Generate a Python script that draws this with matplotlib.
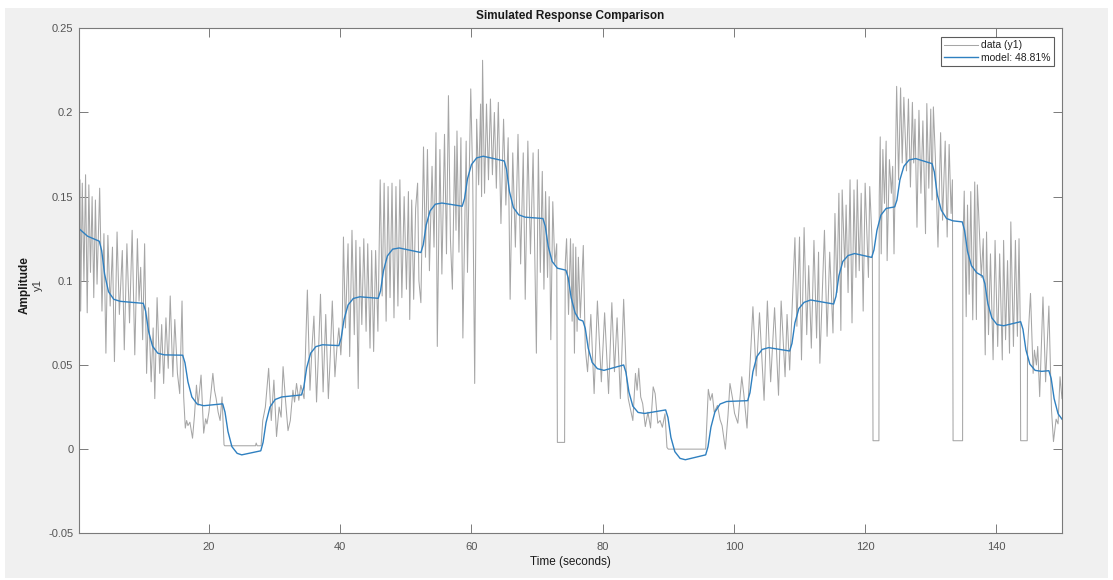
import matplotlib
matplotlib.use("Agg")
import matplotlib.pyplot as plt
from matplotlib.patches import Rectangle

plt.rcParams['font.family'] = ['Liberation Sans', 'DejaVu Sans']

# Measured output y1 (time in seconds, amplitude)
data_t = [
    0.2, 0.35, 0.45, 0.7, 0.95, 1.2, 1.45, 1.7, 1.95, 2.2, 2.45, 2.7, 2.95, 3.35,
    3.7, 4.0, 4.3, 4.6, 4.95, 5.3, 5.6, 6.0, 6.35, 6.8, 7.1, 7.5, 7.9, 8.3, 8.7, 9.1, 9.35, 9.6, 9.9, 10.2,
    10.5, 10.8, 11.2, 11.5, 11.75, 12.1, 12.5, 12.8, 13.1, 13.45, 13.8, 14.1, 14.5, 14.8, 15.2, 15.55, 15.9,
    16.15, 16.4, 16.6, 16.8, 17.1, 17.5, 17.8, 18.1, 18.35, 18.5, 18.8, 19.2, 19.5, 19.7, 20.0, 20.3, 20.6,
    20.85, 21.1, 21.4, 21.7, 22.0, 22.3, 22.4,
    27.1, 27.2, 27.35, 27.95,
    28.2, 28.6, 29.1, 29.5, 29.9, 30.3, 30.7, 31.0, 31.3, 31.65, 32.05, 32.4, 32.8, 33.05, 33.35, 33.7, 34.0,
    34.5, 35.0, 35.4, 35.7, 36.0, 36.4, 36.7, 37.0, 37.4, 37.8, 38.2, 38.5, 38.8, 39.2, 39.5, 39.8, 40.1,
    40.3, 40.5, 40.8, 41.2, 41.45, 41.8, 42.15, 42.4, 42.75, 43.0, 43.3, 43.6, 43.95, 44.2, 44.55, 44.8,
    45.1, 45.4, 45.75,
    46.1, 46.4, 46.7, 47.0, 47.3, 47.6, 47.9, 48.2, 48.5, 48.8, 49.1, 49.4, 49.75, 50.1, 50.4, 50.6, 50.9,
    51.2, 51.5, 51.8, 52.0, 52.3,
    52.7, 53.0, 53.3, 53.6, 54.0, 54.3, 54.6, 54.8, 55.2, 55.5, 55.9, 56.2, 56.5, 56.8, 57.1, 57.45, 57.65,
    57.8, 58.1, 58.4, 58.7,
    59.2, 59.4, 59.9, 60.2, 60.5, 60.8, 61.1, 61.4, 61.55, 61.7, 62.0, 62.3, 62.6, 62.9, 63.2, 63.5, 63.8,
    64.1, 64.5, 64.9,
    65.25, 65.6, 65.9, 66.3, 66.7, 67.1, 67.5, 67.9, 68.2, 68.6, 69.0, 69.4, 69.9, 70.2, 70.5, 70.8,
    71.05, 71.3, 71.6, 71.85, 72.1, 72.4, 72.7, 73.0, 73.1, 74.2, 74.3,
    74.5, 74.8, 75.1, 75.35, 75.5, 75.7, 75.9, 76.1, 76.3, 76.6, 77.05, 77.35,
    77.7, 78.2, 78.7, 79.2, 79.8, 80.3, 80.9, 81.4, 81.8, 82.2, 82.7, 83.2,
    83.6, 83.9, 84.6, 85.0, 85.25, 85.5, 85.8, 86.1, 86.5, 86.9, 87.3, 87.7, 88.0, 88.4, 88.75, 89.1, 89.5,
    89.8, 90.0,
    95.7,
    96.1, 96.4, 96.7, 97.0, 97.5, 97.9, 98.2, 98.7, 99.1, 99.4, 99.8, 100.1, 100.6, 101.2, 101.5, 102.0, 102.2,
    102.9, 103.4, 103.9, 104.6, 105.1, 105.6, 106.2, 106.8, 107.2, 107.8, 108.1, 108.5,
    109.3, 109.6, 110.0, 110.3, 110.7, 111.1, 111.4, 111.8, 112.2, 112.6, 112.9, 113.1, 113.8, 114.2, 114.6,
    115.1,
    115.4, 115.7, 116.0, 116.3, 116.5, 116.9, 117.1, 117.4, 117.7, 118.0, 118.3, 118.6, 118.8, 119.1, 119.4,
    119.7, 120.0, 120.5, 120.7, 121.1, 121.2, 122.1, 122.15,
    122.3, 122.45, 122.7, 122.95, 123.2, 123.35, 123.7, 124.0, 124.2, 124.4, 124.8,
    125.1, 125.4, 125.65, 125.9, 126.3, 126.6, 126.9, 127.2, 127.4, 127.6, 127.9, 128.2, 128.5, 128.8, 129.2,
    129.4, 129.7, 130.0, 130.2, 130.4,
    130.7, 131.1, 131.5, 131.8, 132.2, 132.5, 132.8, 133.1, 133.3, 133.4, 134.85, 134.9,
    135.1, 135.4, 135.6, 135.85, 136.1, 136.4, 136.7, 136.95, 137.1, 137.3, 137.7, 138.0,
    138.3, 138.5, 138.8, 139.1, 139.5, 139.8, 140.2, 140.5, 140.9, 141.1, 141.4, 141.7, 142.0, 142.2, 142.6,
    142.9, 143.2, 143.45, 143.65, 143.7, 144.7, 144.75,
    145.2, 145.6, 145.8, 146.1, 146.3, 146.6, 147.1, 147.5, 148.0,
    148.4, 148.7, 149.1, 149.4, 149.7, 150.0,
]
data_y = [
    0.120, 0.160, 0.082, 0.158, 0.100, 0.163, 0.081, 0.157, 0.105, 0.150, 0.090, 0.148, 0.098, 0.155,
    0.082, 0.128, 0.057, 0.127, 0.085, 0.120, 0.052, 0.129, 0.080, 0.118, 0.059, 0.122, 0.075, 0.130, 0.056,
    0.125, 0.088, 0.108, 0.065, 0.122,
    0.045, 0.084, 0.040, 0.072, 0.030, 0.090, 0.045, 0.074, 0.039, 0.078, 0.048, 0.091, 0.043, 0.077, 0.045,
    0.033, 0.088,
    0.031, 0.0125, 0.017, 0.014, 0.016, 0.0065, 0.020, 0.038, 0.026, 0.032, 0.044, 0.0095, 0.018, 0.015,
    0.022, 0.033, 0.045, 0.035, 0.030, 0.022, 0.017, 0.031, 0.0026, 0.002,
    0.002, 0.0036, 0.002, 0.002,
    0.017, 0.025, 0.048, 0.017, 0.041, 0.0075, 0.025, 0.019, 0.049, 0.030, 0.011, 0.017, 0.035, 0.028,
    0.039, 0.029, 0.038,
    0.030, 0.0945, 0.035, 0.060, 0.079, 0.028, 0.058, 0.092, 0.034, 0.080, 0.030, 0.056, 0.088, 0.043,
    0.060, 0.072, 0.056,
    0.070, 0.126, 0.072, 0.122, 0.055, 0.130, 0.068, 0.124, 0.036, 0.120, 0.074, 0.125, 0.070, 0.122,
    0.060, 0.118, 0.058, 0.118, 0.070,
    0.160, 0.091, 0.158, 0.076, 0.156, 0.090, 0.158, 0.078, 0.156, 0.085, 0.160, 0.090, 0.150, 0.095,
    0.153, 0.077, 0.148, 0.089, 0.143, 0.158, 0.100, 0.087,
    0.1795, 0.114, 0.178, 0.106, 0.168, 0.120, 0.188, 0.061, 0.178, 0.104, 0.187, 0.116, 0.210, 0.125,
    0.095, 0.180, 0.130, 0.189, 0.117, 0.185, 0.066,
    0.183, 0.105, 0.214, 0.160, 0.039, 0.196, 0.157, 0.205, 0.150, 0.231, 0.152, 0.205, 0.160, 0.208,
    0.163, 0.200, 0.155, 0.206, 0.134, 0.196,
    0.145, 0.185, 0.089, 0.176, 0.120, 0.187, 0.110, 0.176, 0.089, 0.183, 0.116, 0.176, 0.057, 0.178,
    0.105, 0.165,
    0.095, 0.153, 0.102, 0.150, 0.065, 0.147, 0.110, 0.122, 0.004, 0.004, 0.110,
    0.125, 0.080, 0.125, 0.076, 0.122, 0.057, 0.120, 0.070, 0.114, 0.078, 0.121, 0.060,
    0.046, 0.080, 0.033, 0.088, 0.040, 0.081, 0.033, 0.087, 0.046, 0.078, 0.030, 0.089,
    0.045, 0.030, 0.017, 0.045, 0.035, 0.048, 0.031, 0.027, 0.0134, 0.022, 0.0126, 0.037, 0.033, 0.0154,
    0.017, 0.013, 0.021, 0.001, 0.0,
    0.0,
    0.0355, 0.029, 0.033, 0.022, 0.026, 0.0174, 0.014, 0.0, 0.020, 0.039, 0.030, 0.0213, 0.0154, 0.043,
    0.033, 0.0125, 0.030,
    0.0846, 0.0435, 0.081, 0.029, 0.088, 0.040, 0.084, 0.032, 0.088, 0.043, 0.080, 0.047,
    0.1256, 0.073, 0.126, 0.053, 0.1316, 0.068, 0.109, 0.060, 0.124, 0.066, 0.117, 0.051, 0.130, 0.067,
    0.117, 0.069,
    0.140, 0.093, 0.152, 0.0705, 0.154, 0.108, 0.145, 0.093, 0.160, 0.075, 0.154, 0.102, 0.160, 0.106,
    0.152, 0.082, 0.158, 0.102, 0.156, 0.120, 0.005, 0.005, 0.150,
    0.1855, 0.116, 0.178, 0.146, 0.183, 0.112, 0.172, 0.152, 0.168, 0.116, 0.2155,
    0.160, 0.2146, 0.170, 0.209, 0.1653, 0.208, 0.1557, 0.206, 0.170, 0.196, 0.1318, 0.2013, 0.152, 0.195,
    0.128, 0.2053, 0.155, 0.202, 0.148, 0.2033,
    0.1735, 0.120, 0.188, 0.136, 0.183, 0.126, 0.181, 0.140, 0.160, 0.005, 0.005, 0.120,
    0.1533, 0.0787, 0.145, 0.092, 0.153, 0.0768, 0.1587, 0.077, 0.157, 0.140, 0.102, 0.125,
    0.056, 0.129, 0.068, 0.116, 0.0531, 0.124, 0.061, 0.116, 0.053, 0.124, 0.065, 0.112, 0.057, 0.135,
    0.061, 0.124, 0.067, 0.125, 0.070, 0.005, 0.005, 0.060,
    0.0925, 0.045, 0.0588, 0.050, 0.061, 0.0312, 0.0904, 0.040, 0.085,
    0.0233, 0.0045, 0.0178, 0.015, 0.043, 0.030,
]

# Simulated model output
model_t = [
    0.2, 1.5, 3.3, 3.65, 4.1, 4.7, 5.5, 6.5, 10.0,
    10.35, 10.8, 11.4, 12.2, 13.2, 16.0,
    16.35, 16.8, 17.4, 18.2, 19.2, 22.1,
    22.45, 22.9, 23.5, 24.3, 25.0, 27.9,
    28.25, 28.7, 29.3, 30.1, 31.1, 34.1,
    34.45, 34.9, 35.5, 36.3, 37.3, 39.8,
    40.15, 40.6, 41.2, 42.0, 43.0, 45.8,
    46.15, 46.6, 47.2, 48.0, 49.0, 52.3,
    52.65, 53.1, 53.7, 54.5, 55.5, 58.6,
    58.95, 59.4, 60.0, 60.8, 61.8, 65.0,
    65.35, 65.8, 66.4, 67.2, 68.2, 70.9,
    71.25, 71.7, 72.3, 73.1, 74.4,
    74.75, 75.2, 75.8, 76.4, 77.0,
    77.35, 77.8, 78.4, 79.2, 80.2, 83.2,
    83.55, 84.0, 84.6, 85.4, 86.4, 89.6,
    89.95, 90.4, 91.0, 91.8, 92.6, 95.7,
    96.05, 96.5, 97.1, 97.9, 98.9, 102.1,
    102.45, 102.9, 103.5, 104.3, 105.3, 108.5,
    108.85, 109.3, 109.9, 110.7, 111.7, 115.2,
    115.55, 116.0, 116.6, 117.4, 118.4, 121.0,
    121.35, 121.8, 122.4, 123.2, 124.5,
    124.85, 125.3, 125.9, 126.7, 127.7, 130.2,
    130.55, 131.0, 131.6, 132.4, 133.4, 134.8,
    135.15, 135.6, 136.2, 137.0, 137.9,
    138.25, 138.7, 139.3, 140.1, 141.1, 143.7,
    144.05, 144.5, 145.1, 145.9, 146.9, 148.0,
    148.35, 148.8, 149.4, 150.0,
]
model_y = [
    0.131, 0.1265, 0.1235, 0.118, 0.104, 0.0935, 0.0890, 0.0878, 0.0866,
    0.082, 0.070, 0.0612, 0.0570, 0.0560, 0.0558,
    0.0513, 0.040, 0.031, 0.0268, 0.0258, 0.0269,
    0.022, 0.0105, 0.0015, -0.0025, -0.0034, -0.001,
    0.004, 0.0157, 0.025, 0.0295, 0.031, 0.0322,
    0.0367, 0.0484, 0.0570, 0.0609, 0.0620, 0.0615,
    0.066, 0.0772, 0.0856, 0.0895, 0.0905, 0.0896,
    0.094, 0.1060, 0.1148, 0.1188, 0.1195, 0.1168,
    0.1213, 0.1330, 0.1415, 0.1455, 0.1462, 0.1443,
    0.1488, 0.1605, 0.1690, 0.1730, 0.1740, 0.1712,
    0.1662, 0.1530, 0.1435, 0.1392, 0.1378, 0.137,
    0.1325, 0.1205, 0.1115, 0.1075, 0.1063,
    0.1018, 0.0900, 0.0810, 0.0770, 0.0761,
    0.0717, 0.0600, 0.0515, 0.0478, 0.0468, 0.050,
    0.0456, 0.0340, 0.0255, 0.0218, 0.0212, 0.0233,
    0.0188, 0.0070, -0.0015, -0.0055, -0.0063, -0.0034,
    0.0014, 0.0130, 0.0220, 0.0268, 0.0283, 0.0288,
    0.0335, 0.0460, 0.0550, 0.0592, 0.0603, 0.0583,
    0.0628, 0.0750, 0.0835, 0.0872, 0.0886, 0.0862,
    0.0907, 0.1030, 0.1115, 0.1150, 0.1162, 0.1139,
    0.1184, 0.1300, 0.1390, 0.1430, 0.1439,
    0.1480, 0.1600, 0.1680, 0.1718, 0.1726, 0.1696,
    0.1646, 0.1510, 0.1420, 0.1370, 0.1356, 0.135,
    0.130, 0.1175, 0.1090, 0.1048, 0.1028,
    0.0983, 0.0865, 0.0780, 0.0740, 0.0733, 0.0757,
    0.0712, 0.0590, 0.0505, 0.0468, 0.0462, 0.0466,
    0.0420, 0.0300, 0.0210, 0.0178,
]

fit_percent = 48.81
x_ticks = [20, 40, 60, 80, 100, 120, 140]
y_ticks = [-0.05, 0, 0.05, 0.1, 0.15, 0.2, 0.25]
y_ticklabels = ['-0.05', '0', '0.05', '0.1', '0.15', '0.2', '0.25']

W, H = 1113, 580
fig = plt.figure(figsize=(W / 100, H / 100), dpi=100, facecolor='white')
# grey window panel
fig.patches.append(Rectangle((5 / W, 2 / H), (1108 - 5) / W, (572 - 2) / H,
                             transform=fig.transFigure, facecolor='#f0f0f0',
                             edgecolor='none', zorder=-10))

ax = fig.add_axes([79 / W, 1 - 533.3 / H, (1062 - 79) / W, (533.3 - 28.3) / H])
ax.set_facecolor('white')

ax.plot(data_t, data_y, color='#a6a6a6', lw=0.75, label='data (y1)')
ax.plot(model_t, model_y, color='#2f80c0', lw=1.0, label=f'model: {fit_percent:.2f}%')

ax.set_xlim(0.2, 150)
ax.set_ylim(-0.05, 0.25)
ax.set_xticks(x_ticks)
ax.set_yticks(y_ticks)
ax.set_yticklabels(y_ticklabels)

axis_col = '#7a7a7a'
for s in ax.spines.values():
    s.set_color(axis_col)
    s.set_linewidth(0.8)
ax.tick_params(direction='in', length=6.5, width=0.7, colors=axis_col,
               labelcolor='#555555', labelsize=8, top=True, right=True,
               labeltop=False, labelright=False)
ax.tick_params(axis='x', pad=6)
ax.tick_params(axis='y', pad=4)

ax.set_title('Simulated Response Comparison', fontsize=8.5, fontweight='bold',
             color='#1a1a1a', pad=7)
ax.set_xlabel('Time (seconds)', fontsize=8.5, color='#1a1a1a', labelpad=3)

fig.text(25 / W, 1 - 285 / H, 'Amplitude', rotation=90, ha='center', va='center',
         fontsize=8.5, fontweight='bold', color='#1a1a1a')
fig.text(37.5 / W, 1 - 285 / H, 'y1', rotation=90, ha='center', va='center',
         fontsize=8, color='#333333')

leg = ax.legend(loc='upper right', bbox_to_anchor=(1 - 8 / 983, 1 - 9 / 505),
                fontsize=7.5, frameon=True, fancybox=False, borderpad=0.3,
                handlelength=3.3, handletextpad=0.3, labelspacing=0.2,
                borderaxespad=0.0)
leg.get_frame().set_edgecolor('#333333')
leg.get_frame().set_linewidth(0.8)
for txt in leg.get_texts():
    txt.set_color('#222222')

fig.savefig('out.png', dpi=100, facecolor=fig.get_facecolor())
